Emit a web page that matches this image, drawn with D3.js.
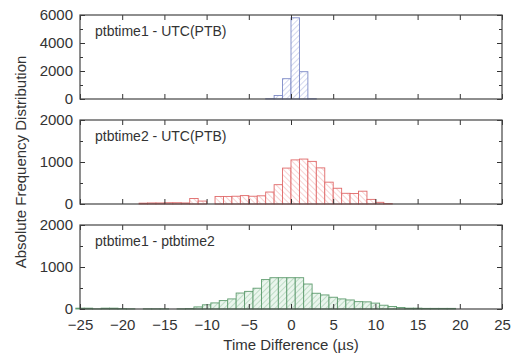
<!DOCTYPE html>
<html>
<head>
<meta charset="utf-8">
<script src="https://cdn.jsdelivr.net/npm/d3@7"></script>
<style>
  body { margin: 0; background: #fff; }
  text { font-family: "Liberation Sans", Arial, sans-serif; fill: #333; }
</style>
</head>
<body>
<div id="chart"></div>
<script>
// histogram bins (1 us wide)
// panel 1 and 2: bin starts at k, covers [k, k+1]
const p1Starts = [-3, -2, -1, 0, 1, 2];
const p1Counts = [20, 250, 1450, 5800, 1950, 20];

const p2Starts = [-18, -17, -16, -15, -14, -13, -12, -11, -10, -9, -8, -7, -6, -5, -4, -3, -2, -1,
  0, 1, 2, 3, 4, 5, 6, 7, 8, 9, 10, 11];
const p2Counts = [20, 25, 25, 30, 30, 25, 130, 70, 0, 180, 180, 185, 200, 185, 195, 285, 460, 855,
  1050, 1070, 1015, 860, 520, 375, 255, 250, 305, 110, 40, 10];

// panel 3: bins centred on k, covers [k-0.5, k+0.5]
const p3Centers = [-25, -24, -23, -22, -21, -20, -19, -18, -17, -16, -15, -14, -13, -12, -11, -10,
  -9, -8, -7, -6, -5, -4, -3, -2, -1, 0, 1, 2, 3, 4, 5, 6, 7, 8, 9, 10, 11, 12, 13, 14, 15, 16, 17, 18, 19];
const p3Counts = [20, 20, 5, 20, 20, 10, 5, 0, 5, 5, 5, 0, 5, 10, 50, 100,
  145, 200, 240, 380, 420, 495, 700, 745, 745, 745, 745, 595, 375, 335, 280, 240, 215, 175, 170, 140, 90, 60, 35, 20, 20, 15, 15, 15, 15];

const panelLabels = ["ptbtime1 - UTC(PTB)", "ptbtime2 - UTC(PTB)", "ptbtime1 - ptbtime2"];
const xTicks = [-25, -20, -15, -10, -5, 0, 5, 10, 15, 20, 25];
const yTicks1 = [0, 2000, 4000, 6000];
const yMinor1 = [1000, 3000, 5000];
const yTicks23 = [0, 1000, 2000];
const yMinor23 = [500, 1500];

const W = 515, H = 357;
const left = 80, plotW = 422;
const panelTops = [15, 120, 225];
const panelH = 84;

const svg = d3.select("#chart").append("svg")
  .attr("width", W).attr("height", H);

const x = d3.scaleLinear().domain([-25, 25]).range([left, left + plotW]);

// hatch patterns
const defs = svg.append("defs");
function hatch(id, color, bg, dir) {
  const p = defs.append("pattern")
    .attr("id", id)
    .attr("patternUnits", "userSpaceOnUse")
    .attr("width", 4).attr("height", 4)
    .attr("patternTransform", `rotate(${dir})`);
  p.append("rect").attr("width", 4).attr("height", 4).attr("fill", bg);
  p.append("line").attr("x1", 0).attr("y1", 0).attr("x2", 0).attr("y2", 4)
    .attr("stroke", color).attr("stroke-width", 1);
}
hatch("h1", "#a8b2e0", "#ffffff", 45);
hatch("h2", "#f2a6a6", "#ffffff", -45);
hatch("h3", "#93c4a0", "#eaf5ed", 45);

const panels = [
  { bins: p1Starts.map((s, i) => ({ x0: s, x1: s + 1, v: p1Counts[i] })),
    max: 6000, ticks: yTicks1, minor: yMinor1, stroke: "#7c89c6", fill: "url(#h1)" },
  { bins: p2Starts.map((s, i) => ({ x0: s, x1: s + 1, v: p2Counts[i] })),
    max: 2000, ticks: yTicks23, minor: yMinor23, stroke: "#e06a6a", fill: "url(#h2)" },
  { bins: p3Centers.map((c, i) => ({ x0: c - 0.5, x1: c + 0.5, v: p3Counts[i] })),
    max: 2000, ticks: yTicks23, minor: yMinor23, stroke: "#5f9c6f", fill: "url(#h3)" }
];

panels.forEach((p, i) => {
  const top = panelTops[i];
  const y = d3.scaleLinear().domain([0, p.max]).range([top + panelH, top]);
  const g = svg.append("g");

  // bars
  g.selectAll("rect.bar")
    .data(p.bins)
    .join("rect")
      .attr("class", "bar")
      .attr("x", d => x(d.x0))
      .attr("y", d => y(d.v))
      .attr("width", d => x(d.x1) - x(d.x0))
      .attr("height", d => y(0) - y(d.v))
      .attr("fill", p.fill)
      .attr("stroke", p.stroke)
      .attr("stroke-width", 0.9);

  // axes with inward ticks
  const axes = [
    g.append("g").attr("transform", `translate(0,${top + panelH})`)
      .call(d3.axisBottom(x).tickValues(xTicks).tickSize(-5).tickPadding(10)
        .tickFormat(i === 2 ? d3.format("d") : () => "")),
    g.append("g").attr("transform", `translate(0,${top})`)
      .call(d3.axisTop(x).tickValues(xTicks).tickSize(-5).tickFormat(() => "")),
    g.append("g").attr("transform", `translate(${left},0)`)
      .call(d3.axisLeft(y).tickValues(p.ticks).tickSize(-5).tickPadding(7).tickFormat(d3.format("d"))),
    g.append("g").attr("transform", `translate(${left},0)`)
      .call(d3.axisLeft(y).tickValues(p.minor).tickSize(-3).tickFormat(() => "")),
    g.append("g").attr("transform", `translate(${left + plotW},0)`)
      .call(d3.axisRight(y).tickValues(p.ticks).tickSize(-5).tickFormat(() => "")),
    g.append("g").attr("transform", `translate(${left + plotW},0)`)
      .call(d3.axisRight(y).tickValues(p.minor).tickSize(-3).tickFormat(() => ""))
  ];
  axes.forEach(a => {
    a.select(".domain").remove();
    a.selectAll("line").attr("stroke", "#333");
    a.selectAll("text").attr("font-size", 15).attr("fill", "#333")
      .style("font-family", "'Liberation Sans', Arial, sans-serif");
  });

  // frame
  g.append("rect")
    .attr("x", left).attr("y", top)
    .attr("width", plotW).attr("height", panelH)
    .attr("fill", "none").attr("stroke", "#444").attr("stroke-width", 1.2);

  g.append("text")
    .attr("x", left + 15).attr("y", top + 21)
    .attr("font-size", 14)
    .text(panelLabels[i]);
});

// axis titles
svg.append("text")
  .attr("x", x(0)).attr("y", 350)
  .attr("text-anchor", "middle")
  .attr("font-size", 15)
  .text("Time Difference (\u00b5s)");

svg.append("text")
  .attr("transform", `translate(26,${panelTops[0] + (panelTops[2] + panelH - panelTops[0]) / 2}) rotate(-90)`)
  .attr("text-anchor", "middle")
  .attr("font-size", 15)
  .text("Absolute Frequency Distribution");
</script>
</body>
</html>
